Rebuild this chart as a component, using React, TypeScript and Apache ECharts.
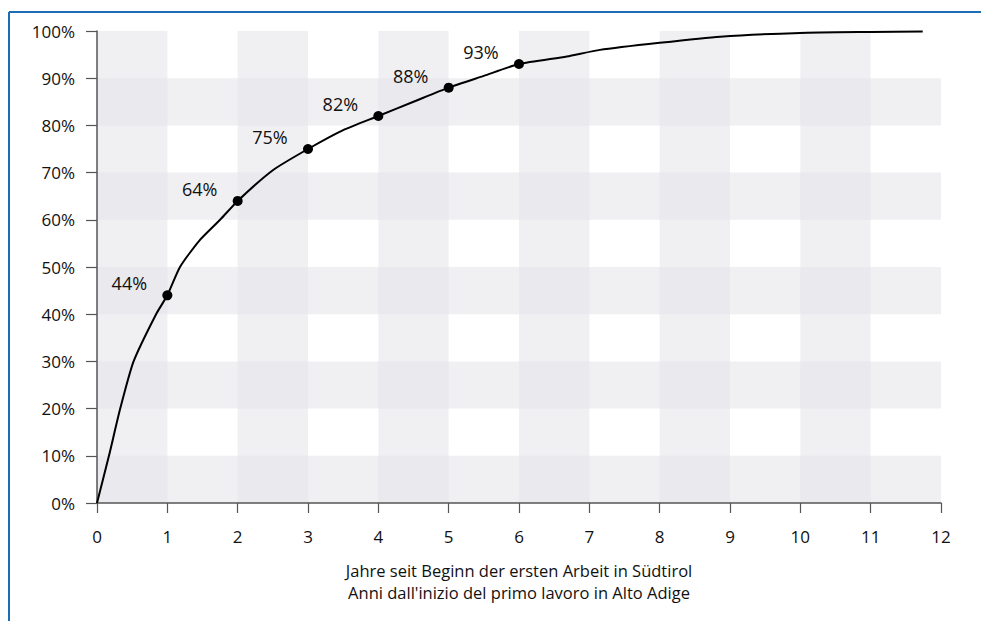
import React, { useEffect, useRef } from "react";
import * as echarts from "echarts";

const curveYears = [0, 0.17, 0.33, 0.52, 0.84, 1, 1.18, 1.45, 1.75, 2, 2.5, 3, 3.5, 4, 4.5, 5, 5.5, 6, 6.68, 7.15, 8, 8.86, 10, 11, 11.74];
const curveShare = [0, 10, 20, 30, 40, 44, 50, 55.5, 60, 64, 70.5, 75, 79, 82, 85, 88, 90.5, 93, 94.6, 96, 97.5, 98.8, 99.6, 99.8, 99.9];

const markerYears = [1, 2, 3, 4, 5, 6];
const markerShare = [44, 64, 75, 82, 88, 93];

const xTicksMax = 12;
const xAxisName = "Jahre seit Beginn der ersten Arbeit in Südtirol\nAnni dall'inizio del primo lavoro in Alto Adige";

const FONT = "Open Sans";
const BAND = "rgba(228,228,234,0.55)";
const AXIS = "#555555";
const TEXT = "#111111";

export default function App() {
  const ref = useRef<HTMLDivElement>(null);
  useEffect(() => {
    if (!ref.current) return;
    const chart = echarts.init(ref.current, undefined, { renderer: "svg" });
    chart.setOption({
      animation: false,
      backgroundColor: "#ffffff",
      grid: { left: 97, right: 40, top: 31, bottom: 118 },
      xAxis: {
        type: "value",
        min: 0,
        max: xTicksMax,
        interval: 1,
        name: xAxisName,
        nameLocation: "middle",
        nameGap: 56,
        nameTextStyle: { fontFamily: FONT, fontSize: 16.5, color: TEXT, lineHeight: 22 },
        axisLine: { show: true, onZero: false, lineStyle: { color: AXIS, width: 1.5 } },
        axisTick: { show: true, length: 10, lineStyle: { color: AXIS, width: 1.2 } },
        axisLabel: { margin: 25, fontFamily: FONT, fontSize: 17, color: TEXT },
        splitLine: { show: false },
        splitArea: { show: true, areaStyle: { color: [BAND, "rgba(255,255,255,0)"] } },
      },
      yAxis: {
        type: "value",
        min: 0,
        max: 100,
        interval: 10,
        axisLine: { show: true, lineStyle: { color: AXIS, width: 1.5 } },
        axisTick: { show: true, length: 11, lineStyle: { color: AXIS, width: 1.2 } },
        axisLabel: { margin: 22, formatter: "{value}%", fontFamily: FONT, fontSize: 17, color: TEXT },
        splitLine: { show: false },
        splitArea: { show: true, areaStyle: { color: [BAND, "rgba(255,255,255,0)"] } },
      },
      series: [
        {
          type: "line",
          data: curveYears.map((x, i) => [x, curveShare[i]]),
          smooth: 0.2,
          showSymbol: false,
          lineStyle: { color: "#000", width: 2 },
          z: 3,
        },
        {
          type: "scatter",
          data: markerYears.map((x, i) => [x, markerShare[i]]),
          symbolSize: 10,
          itemStyle: { color: "#000", opacity: 1 },
          label: {
            show: true,
            position: "inside",
            offset: [-38, -12],
            formatter: (p: any) => p.value[1] + "%",
            fontFamily: FONT,
            fontSize: 18,
            color: TEXT,
            opacity: 1,
            textBorderWidth: 0,
          },
          z: 4,
        },
      ],
      graphic: [
        { type: "line", shape: { x1: 9, y1: 12, x2: 981, y2: 12 }, style: { stroke: "#1c6db5", lineWidth: 2 } },
        { type: "line", shape: { x1: 9, y1: 12, x2: 9, y2: 621 }, style: { stroke: "#1c6db5", lineWidth: 2 } },
      ],
    });
    return () => chart.dispose();
  }, []);
  return <div ref={ref} style={{ position: "fixed", left: 0, top: 0, width: 981, height: 621 }} />;
}
